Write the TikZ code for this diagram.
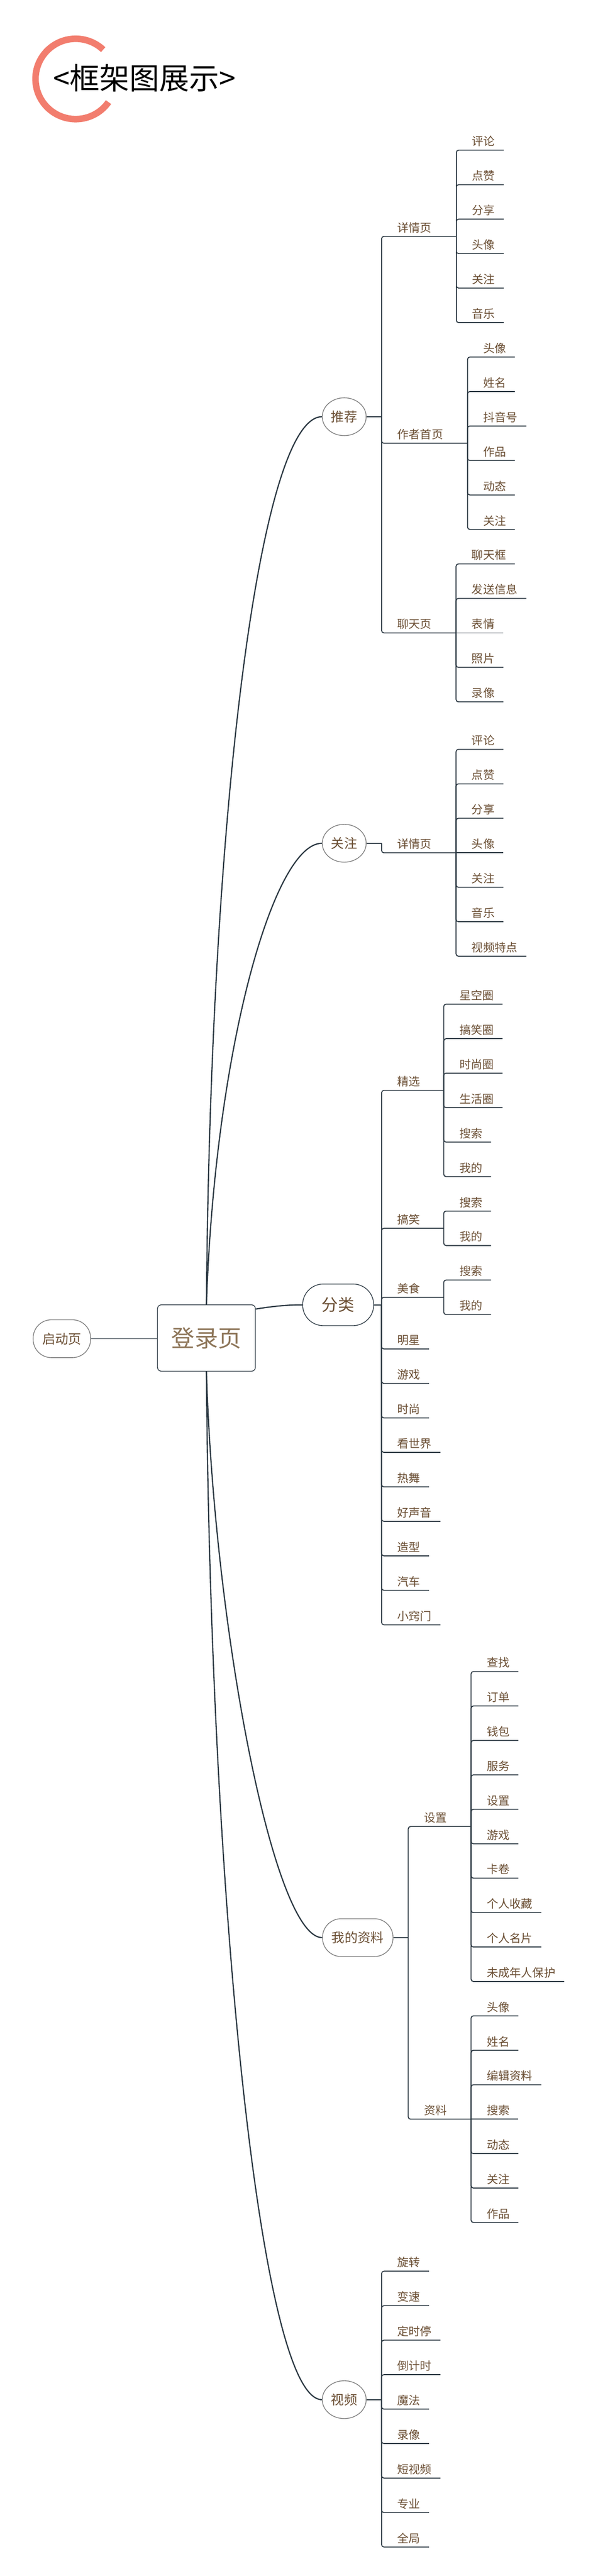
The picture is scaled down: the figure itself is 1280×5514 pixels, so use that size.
\documentclass[tikz,border=0pt]{standalone}
\usepackage{fontspec}
\setmainfont{Noto Sans CJK SC}
\usetikzlibrary{shapes.geometric}
\definecolor{txt}{HTML}{6A4E33}
\definecolor{txtl}{HTML}{8D7558}
\definecolor{ln}{HTML}{2B3842}
\definecolor{bd}{HTML}{7A7A7A}
\definecolor{salmon}{HTML}{F27D6E}
\newcommand\mmleaf[5]{%
  \node[lbl] (#1) at ({#3+33.5},{#4-9.5}) {#5};
  \draw[br] (#2) |- ([shift={(18.5pt,-9.5pt)}]#1.base east);}
\newcommand\mmleafs[5]{%
  \node[lbl] (#1) at ({#3+33.5},{#4-9.5}) {#5};
  \draw[br] (#2) -- ([shift={(18.5pt,-9.5pt)}]#1.base east);}
\newcommand\mmbranch[7]{%
  \node[lbl] (#1) at ({#3+33.5},{#4-9.5}) {#5};
  \coordinate (#7) at (#6,#4);
  \draw[br] (#2) |- (#7);}
\begin{document}
\begin{tikzpicture}[x=1pt,y=-1pt,
  lbl/.style={anchor=base west, inner sep=0pt, font=\fontsize{24.5pt}{29pt}\selectfont, text=txt},
  br/.style={draw=ln, line width=2pt, rounded corners=5pt},
  curve/.style={draw=ln, line width=2.6pt},
  ell/.style={ellipse, draw=bd, line width=1.5pt, minimum width=94pt, minimum height=81pt, inner sep=0pt, fill=white, font=\fontsize{28pt}{32pt}\selectfont, text=txt},
  pill/.style={rectangle, rounded corners=40pt, draw=bd, line width=1.5pt, minimum height=81pt, inner sep=0pt, fill=white, font=\fontsize{28pt}{32pt}\selectfont, text=txt}]
\useasboundingbox (0,0) rectangle (1280,5514);
\fill[white] (0,0) rectangle (1280,5514);

% title
\draw[salmon, line width=14pt] (220.9,106.3) arc[start angle=46.8, end angle=324.8, radius=86pt];
\node[anchor=west, inner sep=0pt, font=\fontsize{64pt}{70pt}\selectfont, text=black] (title) at (114,167) {<框架图展示>};

% central nodes
\node[pill, minimum width=123pt, rounded corners=39pt] (qd) at (132.5,2865.5) {启动页};
\node[rectangle, rounded corners=8pt, draw=ln, line width=1.5pt, minimum width=209.5pt, minimum height=142pt, inner sep=0pt, fill=white, font=\fontsize{50pt}{56pt}\selectfont, text=txtl] (dl) at (442,2864) {登录页};
\draw[br] (qd.east) -- (qd.east -| dl.west);

% level 1 nodes
\node[ell] (tj) at (737,892) {推荐};
\node[ell] (gz) at (737,1805) {关注};
\node[pill, draw=ln, minimum width=152pt, minimum height=89pt, rounded corners=44pt, font=\fontsize{35pt}{40pt}\selectfont] (fl) at (724,2793) {分类};
\node[pill, minimum width=151pt] (wd) at (766,4147.5) {我的资料};
\node[ell] (sp) at (737,5136.5) {视频};

% main curves
\draw[curve] (dl.north) .. controls (450,1750) and (555,892) .. (tj.west);
\draw[curve] (dl.north) .. controls (460,2250) and (585,1805) .. (gz.west);
\draw[curve] ([yshift=62pt]dl.east) .. controls (585,2796) and (615,2793) .. (fl.west);
\draw[curve] (dl.south) .. controls (458,3480) and (585,4147.5) .. (wd.west);
\draw[curve] (dl.south) .. controls (450,4035) and (555,5136.5) .. (sp.west);

% ---------- 推荐 ----------
\coordinate (Jtj) at (817,892);
\draw[br] (tj.east) -- (Jtj);
\mmbranch{tja}{Jtj}{817}{506}{详情页}{977}{Jtja}
\mmleaf{tja1}{Jtja}{977}{321.5}{评论}
\mmleaf{tja2}{Jtja}{977}{395.3}{点赞}
\mmleaf{tja3}{Jtja}{977}{469.1}{分享}
\mmleaf{tja4}{Jtja}{977}{542.9}{头像}
\mmleaf{tja5}{Jtja}{977}{616.7}{关注}
\mmleaf{tja6}{Jtja}{977}{690.5}{音乐}
\mmbranch{tjb}{Jtj}{817}{948.8}{作者首页}{1001}{Jtjb}
\mmleaf{tjb1}{Jtjb}{1001}{764.3}{头像}
\mmleaf{tjb2}{Jtjb}{1001}{838.1}{姓名}
\mmleaf{tjb3}{Jtjb}{1001}{911.9}{抖音号}
\mmleaf{tjb4}{Jtjb}{1001}{985.7}{作品}
\mmleaf{tjb5}{Jtjb}{1001}{1059.5}{动态}
\mmleaf{tjb6}{Jtjb}{1001}{1133.3}{关注}
\mmbranch{tjc}{Jtj}{817}{1354.7}{聊天页}{976.4}{Jtjc}
\mmleaf{tjc1}{Jtjc}{976.4}{1207.1}{聊天框}
\mmleaf{tjc2}{Jtjc}{976.4}{1280.9}{发送信息}
\mmleafs{tjc3}{Jtjc}{976.4}{1354.7}{表情}
\mmleaf{tjc4}{Jtjc}{976.4}{1428.5}{照片}
\mmleaf{tjc5}{Jtjc}{976.4}{1502.3}{录像}

% ---------- 关注 ----------
\coordinate (Jgz) at (817,1805);
\draw[br] (gz.east) -- (Jgz);
\mmbranch{gza}{Jgz}{817}{1825.4}{详情页}{976.4}{Jgza}
\mmleaf{gza1}{Jgza}{976.4}{1604}{评论}
\mmleaf{gza2}{Jgza}{976.4}{1677.8}{点赞}
\mmleaf{gza3}{Jgza}{976.4}{1751.6}{分享}
\mmleafs{gza4}{Jgza}{976.4}{1825.4}{头像}
\mmleaf{gza5}{Jgza}{976.4}{1899.2}{关注}
\mmleaf{gza6}{Jgza}{976.4}{1973}{音乐}
\mmleaf{gza7}{Jgza}{976.4}{2046.8}{视频特点}

% ---------- 分类 ----------
\coordinate (Jfl) at (817,2793);
\draw[br] (fl.east) -- (Jfl);
\mmbranch{fla}{Jfl}{817}{2334}{精选}{950}{Jfla}
\mmleaf{fla1}{Jfla}{950}{2149.5}{星空圈}
\mmleaf{fla2}{Jfla}{950}{2223.3}{搞笑圈}
\mmleaf{fla3}{Jfla}{950}{2297.1}{时尚圈}
\mmleaf{fla4}{Jfla}{950}{2370.9}{生活圈}
\mmleaf{fla5}{Jfla}{950}{2444.7}{搜索}
\mmleaf{fla6}{Jfla}{950}{2518.5}{我的}
\mmbranch{flb}{Jfl}{817}{2629.2}{搞笑}{950}{Jflb}
\mmleaf{flb1}{Jflb}{950}{2592.3}{搜索}
\mmleaf{flb2}{Jflb}{950}{2666.1}{我的}
\mmbranch{flc}{Jfl}{817}{2776.8}{美食}{950}{Jflc}
\mmleaf{flc1}{Jflc}{950}{2739.9}{搜索}
\mmleaf{flc2}{Jflc}{950}{2813.7}{我的}
\mmleaf{fld}{Jfl}{817}{2887.5}{明星}
\mmleaf{fle}{Jfl}{817}{2961.3}{游戏}
\mmleaf{flf}{Jfl}{817}{3035.1}{时尚}
\mmleaf{flg}{Jfl}{817}{3108.9}{看世界}
\mmleaf{flh}{Jfl}{817}{3182.7}{热舞}
\mmleaf{fli}{Jfl}{817}{3256.5}{好声音}
\mmleaf{flj}{Jfl}{817}{3330.3}{造型}
\mmleaf{flk}{Jfl}{817}{3404.1}{汽车}
\mmleaf{fll}{Jfl}{817}{3477.9}{小窍门}

% ---------- 我的资料 ----------
\coordinate (Jwd) at (874,4147.5);
\draw[br] (wd.east) -- (Jwd);
\mmbranch{wda}{Jwd}{874}{3909.7}{设置}{1008.5}{Jwda}
\mmleaf{wda1}{Jwda}{1008.5}{3578}{查找}
\mmleaf{wda2}{Jwda}{1008.5}{3651.7}{订单}
\mmleaf{wda3}{Jwda}{1008.5}{3725.4}{钱包}
\mmleaf{wda4}{Jwda}{1008.5}{3799.1}{服务}
\mmleaf{wda5}{Jwda}{1008.5}{3872.8}{设置}
\mmleaf{wda6}{Jwda}{1008.5}{3946.5}{游戏}
\mmleaf{wda7}{Jwda}{1008.5}{4020.2}{卡卷}
\mmleaf{wda8}{Jwda}{1008.5}{4093.9}{个人收藏}
\mmleaf{wda9}{Jwda}{1008.5}{4167.6}{个人名片}
\mmleaf{wda10}{Jwda}{1008.5}{4241.3}{未成年人保护}
\mmbranch{wdb}{Jwd}{874}{4536.1}{资料}{1008.5}{Jwdb}
\mmleaf{wdb1}{Jwdb}{1008.5}{4315}{头像}
\mmleaf{wdb2}{Jwdb}{1008.5}{4388.7}{姓名}
\mmleaf{wdb3}{Jwdb}{1008.5}{4462.4}{编辑资料}
\mmleafs{wdb4}{Jwdb}{1008.5}{4536.1}{搜索}
\mmleaf{wdb5}{Jwdb}{1008.5}{4609.8}{动态}
\mmleaf{wdb6}{Jwdb}{1008.5}{4683.5}{关注}
\mmleaf{wdb7}{Jwdb}{1008.5}{4757.2}{作品}

% ---------- 视频 ----------
\coordinate (Jsp) at (817,5136.5);
\draw[br] (sp.east) -- (Jsp);
\mmleaf{sp1}{Jsp}{817}{4861.5}{旋转}
\mmleaf{sp2}{Jsp}{817}{4935.3}{变速}
\mmleaf{sp3}{Jsp}{817}{5009.1}{定时停}
\mmleaf{sp4}{Jsp}{817}{5082.9}{倒计时}
\mmleaf{sp5}{Jsp}{817}{5156.7}{魔法}
\mmleaf{sp6}{Jsp}{817}{5230.5}{录像}
\mmleaf{sp7}{Jsp}{817}{5304.3}{短视频}
\mmleaf{sp8}{Jsp}{817}{5378.1}{专业}
\mmleaf{sp9}{Jsp}{817}{5451.9}{全局}
\end{tikzpicture}
\end{document}
